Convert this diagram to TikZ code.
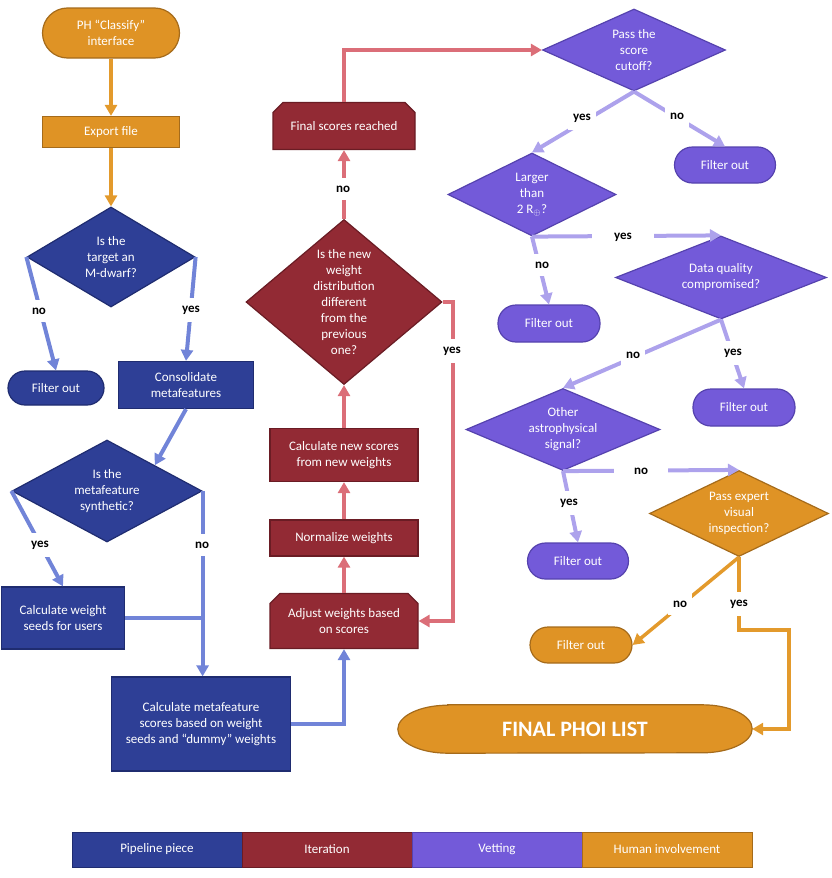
\documentclass[tikz,border=0pt]{standalone}
\usepackage{fontspec}
\setmainfont{Carlito}
\usetikzlibrary{shapes.geometric,shapes.misc,arrows.meta,backgrounds}
\definecolor{cBlue}{HTML}{2E3F96}
\definecolor{cBlueD}{HTML}{1F2C70}
\definecolor{cBlueL}{HTML}{7184D8}
\definecolor{cRed}{HTML}{922A34}
\definecolor{cRedD}{HTML}{6A1C24}
\definecolor{cRedL}{HTML}{DB6E78}
\definecolor{cPur}{HTML}{735AD9}
\definecolor{cPurD}{HTML}{5542AE}
\definecolor{cPurL}{HTML}{ADA2EC}
\definecolor{cOr}{HTML}{DF9325}
\definecolor{cOrD}{HTML}{A56B1B}
\definecolor{cOrL}{HTML}{E39A2C}
\begin{document}
\begin{tikzpicture}[x=1pt,y=-1pt,
  base/.style={text=white, font=\fontsize{13}{16}\selectfont, align=center, inner sep=2pt, line width=1.2pt},
  pp/.style={base, fill=cBlue, draw=cBlueD},
  it/.style={base, fill=cRed, draw=cRedD},
  vt/.style={base, fill=cPur, draw=cPurD},
  hu/.style={base, fill=cOr, draw=cOrD},
  dia/.style={diamond, inner sep=0pt},
  dtext/.style={text=white, font=\fontsize{13}{16}\selectfont, align=center},
  chamf/.style={chamfered rectangle, chamfered rectangle corners={north west, north east}, chamfered rectangle xsep=5pt, chamfered rectangle ysep=5pt},
  pill/.style={rectangle, rounded corners=18pt, minimum width=101pt, minimum height=36pt},
  lgs/.style={minimum width=170pt, minimum height=35pt, line width=0.8pt, font=\fontsize{13}{15}\selectfont},
  arr/.style={-{Triangle[length=11pt,width=12pt]}},
  cb/.style={draw=cBlueL, line width=4pt},
  cr/.style={draw=cRedL, line width=4pt},
  cv/.style={draw=cPurL, line width=4pt},
  co/.style={draw=cOrL, line width=3.5pt},
  lbl/.style={fill=white, text=black, font=\bfseries\fontsize{13}{15}\selectfont, inner xsep=5pt, inner ysep=8pt},
  hlbl/.style={lbl, inner xsep=22pt}
]
\useasboundingbox (0,0) rectangle (831,878);

% ---- Pipeline column
\node[hu, rectangle, rounded corners=25pt, minimum width=137pt, minimum height=50pt] (ph) at (111,33) {PH “Classify”\\interface};
\node[hu, minimum width=137pt, minimum height=31pt] (exp) at (111,132) {Export file};
\node[pp, dia, minimum width=168pt, minimum height=100pt, label={[dtext]center:{Is the\\target an\\M-dwarf?}}] (d1) at (111,257) {};
\node[pp, rectangle, rounded corners=17pt, minimum width=96pt, minimum height=34pt] (fo1) at (56,388) {Filter out};
\node[pp, minimum width=135pt, minimum height=47pt] (cons) at (186,385) {Consolidate\\metafeatures};
\node[pp, dia, minimum width=190pt, minimum height=102pt, label={[dtext]center:{Is the\\metafeature\\synthetic?}}] (d2) at (107,491) {};
\node[pp, minimum width=123pt, minimum height=62pt] (wsd) at (63,618) {Calculate weight\\seeds for users};
\node[pp, minimum width=179pt, minimum height=94pt] (calcm) at (201,724) {Calculate metafeature\\scores based on weight\\seeds and “dummy” weights};

% ---- Iteration column
\node[it, chamf, minimum width=148pt, minimum height=55pt] (adj) at (344,621) {Adjust weights based\\on scores};
\node[it, minimum width=148pt, minimum height=36pt] (norm) at (344,538) {Normalize weights};
\node[it, minimum width=148pt, minimum height=53pt] (cns) at (344,455) {Calculate new scores\\from new weights};
\node[it, dia, minimum width=196pt, minimum height=165pt, label={[dtext]center:{Is the new\\weight\\distribution\\different\\from the\\previous\\one?}}] (red) at (344,302) {};
\node[it, chamf, minimum width=142pt, minimum height=47pt] (fin) at (344,126) {Final scores reached};

% ---- Vetting
\node[vt, dia, minimum width=183pt, minimum height=82pt, label={[dtext]center:{Pass the\\score\\cutoff?}}] (pass) at (634,50) {};
\node[vt, pill] (fo2) at (725,165) {Filter out};
\node[vt, dia, minimum width=168pt, minimum height=83pt, label={[dtext]center:{Larger\\than\\2 R$_{\oplus}$?}}] (lg) at (532,194.5) {};
\node[vt, pill, minimum width=102pt, minimum height=37pt] (fo3) at (549,323.5) {Filter out};
\node[vt, dia, minimum width=211pt, minimum height=83pt, label={[dtext]center:{Data quality\\compromised?}}] (dq) at (721,277.5) {};
\node[vt, pill, minimum width=102pt, minimum height=37pt] (fo4) at (744,407.5) {Filter out};
\node[vt, dia, minimum width=194pt, minimum height=82pt, label={[dtext]center:{Other\\astrophysical\\signal?}}] (oth) at (563,429.5) {};
\node[vt, pill] (fo5) at (578,561) {Filter out};

% ---- Human
\node[hu, dia, minimum width=179pt, minimum height=86pt, label={[dtext]center:{Pass expert\\visual\\inspection?}}] (pe) at (739,513.5) {};
\node[hu, pill, minimum width=102pt] (fo6) at (581,645) {Filter out};
\node[text=white, font=\bfseries\fontsize{22}{26}\selectfont, minimum width=354pt, minimum height=48pt] (final) at (575,729) {FINAL PHOI LIST};
\begin{scope}[on background layer]
\filldraw[fill=cOr, draw=cOrD, line width=1.2pt]
  ([xshift=50pt]final.north west) -- ([xshift=-50pt]final.north east)
  arc[start angle=90, end angle=-90, x radius=50pt, y radius=24pt]
  -- ([xshift=50pt]final.south west)
  arc[start angle=270, end angle=90, x radius=50pt, y radius=24pt] -- cycle;
\end{scope}

% ---- Connectors
\draw[co, arr] (ph.south) -- (exp.north);
\draw[co, arr] (exp.south) -- (d1.north);
\draw[cb, arr] (d1.west) -- (fo1.north);
\draw[cb, arr] (d1.east) -- (cons.north);
\draw[cb, arr] (cons.south) -- (d2.north east);
\draw[cb, arr] (d2.west) -- (wsd.north);
\draw[cb, arr] (d2.east) -- (d2.east |- calcm.north);
\draw[cb] (wsd.east) -- (wsd.east -| d2.east);
\draw[cb, arr] (calcm.east) -| (adj.south);

\draw[cr, arr] (adj.north) -- (norm.south);
\draw[cr, arr] (norm.north) -- (cns.south);
\draw[cr, arr] (cns.north) -- (red.south);
\draw[cr, arr] (red.north) -- (fin.south);
\coordinate (rk) at (453,450);
\draw[cr, arr] (red.east) -| (rk) |- (adj.east);
\draw[cr, arr] (fin.north) |- (pass.west);

\draw[cv, arr] (pass.south) -- (lg.north);
\draw[cv, arr] (pass.south) -- (fo2.north);
\draw[cv, arr] (lg.south) -- (dq.north);
\draw[cv, arr] (lg.south) -- (fo3.north);
\draw[cv, arr] (dq.south) -- (oth.north);
\draw[cv, arr] (dq.south) -- (fo4.north);
\draw[cv, arr] (oth.south) -- (pe.north);
\draw[cv, arr] (oth.south) -- (fo5.north);

\draw[co, arr] (pe.south) -- (fo6.east);
\coordinate (yk) at (789,630);
\draw[co, arr] (pe.south) |- (yk) |- (final.east);

% ---- Labels
\node[lbl] (l1) at (39,311) {no};
\node[lbl] (l2) at (191,310) {yes};
\node[lbl] (l3) at (40,545) {yes};
\node[lbl] (l4) at (202,545) {no};
\node[lbl] (l5) at (343,189) {no};
\node[lbl] (l6) at (452,351) {yes};
\node[lbl] (l7) at (582,118) {yes};
\node[lbl] (l8) at (677,116) {no};
\node[hlbl] (l9) at (623,237) {yes};
\node[lbl] (l10) at (542,265) {no};
\node[lbl] (l11) at (633,355) {no};
\node[lbl] (l12) at (733,353) {yes};
\node[hlbl, inner xsep=20pt] (l13) at (641,471) {no};
\node[lbl] (l14) at (569,503) {yes};
\node[lbl] (l15) at (680,604) {no};
\node[lbl] (l16) at (739,604) {yes};

% ---- Legend
\node[pp, lgs] (k1) at (157,849.5) {Pipeline piece};
\node[it, lgs] (k2) at (327,849.5) {Iteration};
\node[vt, lgs] (k3) at (497,849.5) {Vetting};
\node[hu, lgs] (k4) at (667,849.5) {Human involvement};
\end{tikzpicture}
\end{document}
